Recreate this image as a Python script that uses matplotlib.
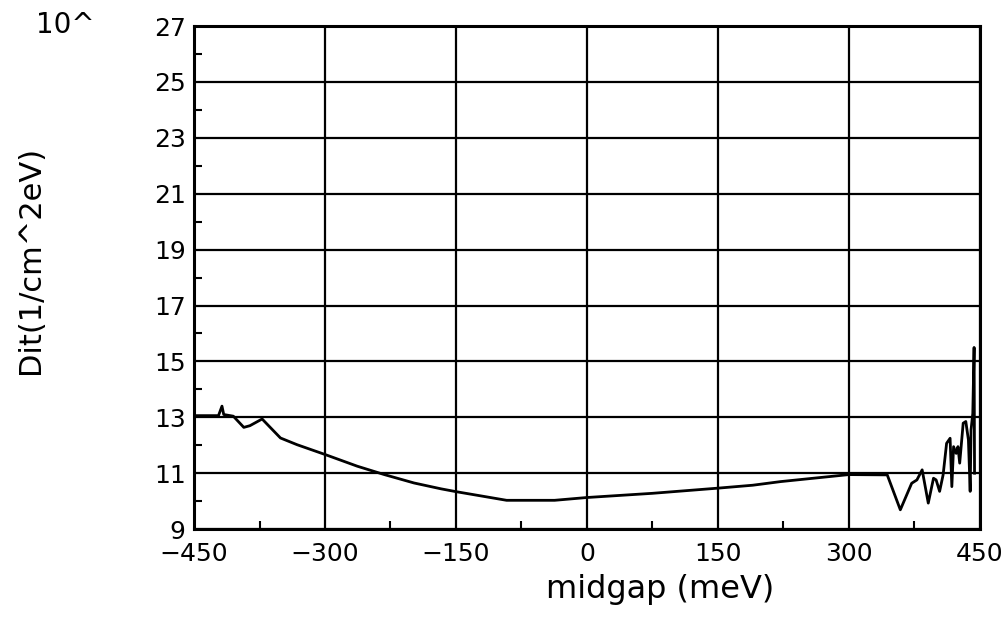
import numpy as np
import matplotlib.pyplot as plt
from matplotlib.ticker import MultipleLocator

# midgap energy (meV) and Dit (x 10^..., 1/cm^2 eV)
midgap = [-450, -422, -418, -416, -405, -393, -386, -372, -364, -351, -332,
          -300, -263, -232, -198, -167, -150, -120, -92, -37, 0, 75, 152,
          190, 222, 300, 344, 359, 372, 378, 384, 391, 397, 400, 404, 408,
          412, 416, 418, 420, 423, 425, 427, 431, 434, 437, 439, 440, 442,
          443.5, 444]
dit = [13.06, 13.06, 13.4, 13.1, 13.04, 12.64, 12.7, 12.94, 12.68, 12.26,
       12.02, 11.67, 11.25, 10.95, 10.65, 10.44, 10.34, 10.18, 10.03, 10.03,
       10.13, 10.28, 10.47, 10.57, 10.70, 10.95, 10.94, 9.69, 10.64, 10.76,
       11.12, 9.93, 10.82, 10.76, 10.35, 10.94, 12.07, 12.25, 10.52, 11.95,
       11.71, 11.95, 11.36, 12.79, 12.85, 12.19, 10.35, 12.55, 13.14, 15.5,
       11.0]

x_ticks = [-450, -300, -150, 0, 150, 300, 450]
y_ticks = list(range(9, 28, 2))

plt.rcParams['font.family'] = ['DejaVu Sans']

fig = plt.figure(figsize=(10.08, 6.21), dpi=100)
ax = fig.add_axes([0.1925, 0.148, 0.7795, 0.81])

ax.plot(midgap, dit, color='black', lw=2.0)

ax.set_xlim(-450, 450)
ax.set_ylim(9, 27)
ax.set_xticks(x_ticks)
ax.set_xticklabels([str(v).replace('-', '\u2212') for v in x_ticks])
ax.set_yticks(y_ticks)
ax.xaxis.set_minor_locator(MultipleLocator(75))
ax.yaxis.set_minor_locator(MultipleLocator(1))
ax.grid(True, which='major', color='black', lw=1.6)
ax.tick_params(which='major', length=0, labelsize=18)
ax.tick_params(axis='x', which='major', pad=9)
ax.tick_params(axis='y', which='major', pad=6)
ax.tick_params(which='minor', direction='in', length=6, width=1.5)
for s in ax.spines.values():
    s.set_linewidth(2.2)

ax.set_xlabel('midgap (meV)', fontsize=23)
ax.xaxis.set_label_coords(0.593, -0.09)
ax.set_ylabel('Dit(1/cm^2eV)', fontsize=22)
ax.yaxis.set_label_coords(-0.19, 0.535)
fig.text(0.036, 0.947, '10^', fontsize=20, va='baseline')

fig.savefig('out.png', dpi=100)
